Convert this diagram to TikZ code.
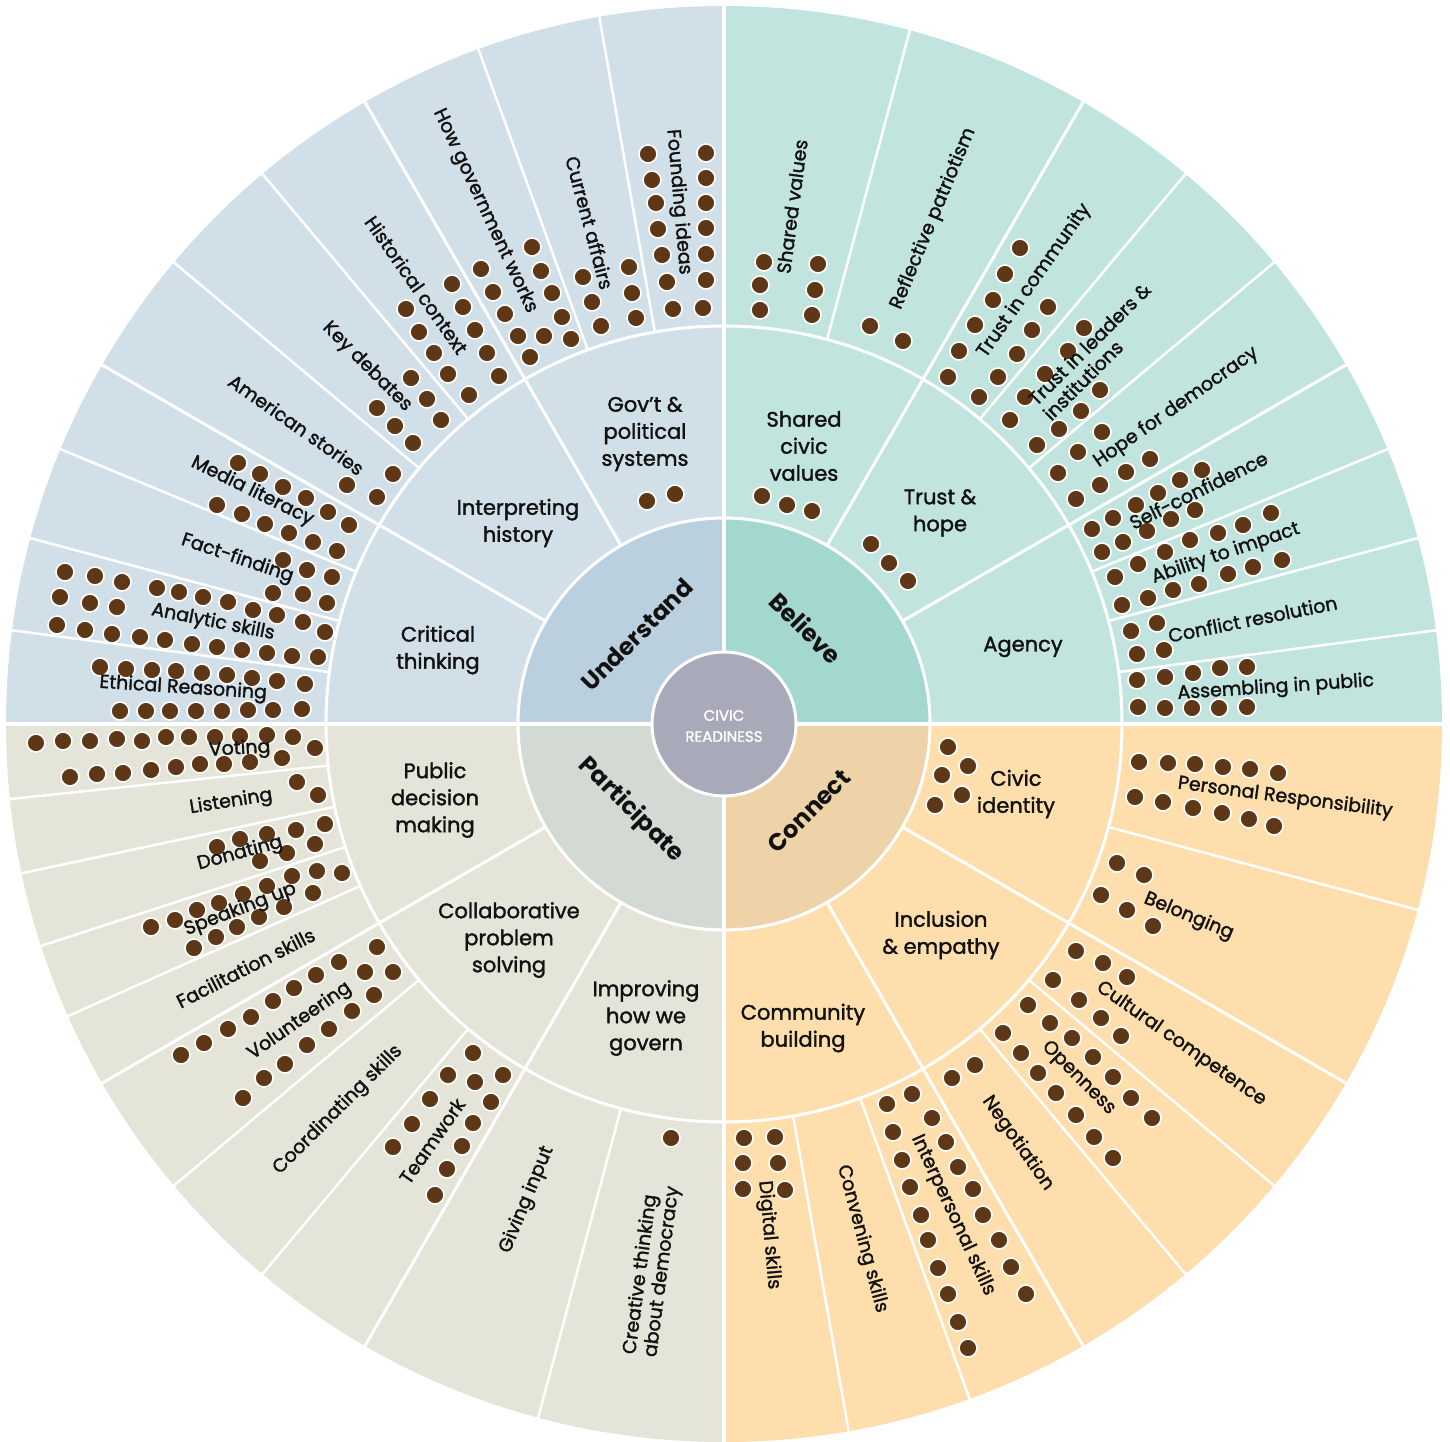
\documentclass[tikz,border=0pt]{standalone}
\usepackage{fontspec}
\setmainfont{Poppins}
\newfontfamily\chartfont{Poppins}[FakeBold=1.6]
\definecolor{understandpale}{RGB}{209,223,232}
\definecolor{understanddeep}{RGB}{187,208,223}
\definecolor{believepale}{RGB}{193,229,222}
\definecolor{believedeep}{RGB}{163,216,208}
\definecolor{connectpale}{RGB}{254,222,173}
\definecolor{connectdeep}{RGB}{238,211,168}
\definecolor{participatepale}{RGB}{228,229,216}
\definecolor{participatedeep}{RGB}{211,218,212}
\definecolor{civicgray}{RGB}{168,170,186}
\definecolor{dotbrown}{RGB}{94,55,22}
\definecolor{inkblack}{RGB}{17,17,17}
\usepackage{tikz}

\tikzset{
  leafline/.style={white,line width=2.5},
  branchline/.style={white,line width=3},
  rootline/.style={white,line width=4.5},
  civicdot/.style={fill=dotbrown,draw=white,line width=1.6},
  leaflabel/.style={font=\chartfont\fontsize{19}{21}\selectfont,text=inkblack,align=left,inner sep=0pt},
  branchlabel/.style={font=\chartfont\fontsize{21}{27}\selectfont,text=inkblack,align=center,inner sep=0pt},
  rootlabel/.style={font=\fontsize{24}{28}\selectfont\bfseries,text=inkblack,inner sep=0pt},
}

\begin{document}
\begin{tikzpicture}[x=1pt,y=1pt]
        \useasboundingbox (-724,-717) rectangle (726,724);
        % four quadrants, pale outer part and deeper inner ring
        \foreach \s/\pale/\deep in {90/understandpale/understanddeep,0/believepale/believedeep,
            270/connectpale/connectdeep,180/participatepale/participatedeep} {
          \fill[\pale] (0,0) -- (\s:718) arc[start angle=\s,delta angle=90,radius=718] -- cycle;
          \fill[\deep] (0,0) -- (\s:206) arc[start angle=\s,delta angle=90,radius=206] -- cycle;
        }
        \draw[branchline] (0,0) circle[radius=398];
        \draw[branchline] (0,0) circle[radius=206];
        % leaf borders, branch borders, quadrant borders
        \foreach \a in {100,110,130,140,157.5,165,172.5,75,50,40,22.5,15,7.5,
            -15,-40,-50,-70,-80,186,192,198,204,220,230,255}
          \draw[leafline] (\a:398) -- (\a:720);
        \foreach \a in {120,150,60,30,-30,-60,210,240}
          \draw[branchline] (\a:206) -- (\a:720);
        \foreach \a in {0,90,180,270}
          \draw[rootline] (\a:72) -- (\a:720);
        \filldraw[civicgray,draw=white,line width=3] (0,0) circle[radius=72];

        % dots, in pixel positions of the chart
        \begin{scope}[shift={(-724,724)},yscale=-1]
          % understand
          \foreach \p/\q in {647/501,675/494,
              706/153,706/178,706/203,706/228,706/254,706/280,703/308,
              648/154,652/180,656/203,658/229,662/255,667/282,673/309,
              583/277,592/302,601/326,629/267,632/293,636/318,
              532/247,541/271,552/293,562/317,571/339,544/336,530/357,481/269,493/292,505/314,518/336,
              452/284,463/307,475/330,487/353,499/376,406/309,419/332,434/353,448/374,469/395,
              411/378,427/399,441/420,377/408,395/426,413/443,
              393/474,377/497,347/485,
              238/463,260/474,283/487,306/498,328/512,349/525,217/505,242/514,265/524,289/533,313/542,337/551,
              283/560,307/570,332/577,273/593,303/594,327/603,
              65/572,95/576,122/582,60/597,90/603,117/607,
              157/588,179/592,203/597,228/602,253/610,277/615,303/622,325/632,
              57/625,85/630,112/634,140/637,165/640,192/644,217/647,242/650,267/653,292/656,318/657,
              100/667,126/669,152/670,176/671,202/673,227/675,252/678,277/681,305/684,
              120/711,146/711,170/711,196/711,222/711,248/710,273/710,302/709}
            \filldraw[civicdot] (\p,\q) circle[radius=9];
          % believe
          \foreach \p/\q in {762/496,787/505,812/511,871/544,889/563,908/581,
              764/262,760/285,760/310,818/264,815/290,812/315,
              870/326,903/341,
              1020/248,1005/274,993/300,975/325,959/351,948/377,979/397,1048/307,1032/330,1017/354,998/377,
              1084/328,1068/351,1045/374,1025/397,1010/420,1037/445,1059/429,1081/411,1100/390,
              1102/432,1078/452,1058/473,1076/499,1100/485,1126/472,1150/459,
              1202/470,1180/480,1158/493,1136/505,1113/518,1092/529,1102/552,1123/542,1147/531,1171/519,1195/510,
              1271/513,1243/525,1218/533,1190/540,1165/552,1138/564,1115/577,
              1122/605,1148/598,1173/590,1199/584,1228/574,1253/567,1282/560,
              1131/631,1157/623,1137/654,1164/650,
              1137/680,1165/677,1193/673,1220/668,1247/667,1138/707,1165/708,1192/708,1219/708,1247/707}
            \filldraw[civicdot] (\p,\q) circle[radius=9];
          % connect
          \foreach \p/\q in {948/747,968/766,942/775,962/795,935/805,
              1139/762,1168/763,1195/764,1223/767,1250/769,1278/773,
              1135/797,1163/802,1193/808,1222/813,1249/819,1274/826,
              1117/863,1144/875,1101/895,1127/910,1153/926,
              1076/951,1103/963,1127/977,1053/980,1079/1000,1101/1018,1121/1036,
              1028/1005,1050/1023,1072/1038,1093/1057,1113/1077,1131/1098,1152/1118,
              1003/1033,1021/1053,1038/1073,1056/1093,1076/1115,1094/1137,1113/1158,
              952/1078,975/1065,
              887/1104,912/1094,893/1132,902/1160,910/1187,921/1215,928/1240,938/1268,948/1294,958/1322,968/1348,
              932/1118,946/1142,958/1167,973/1189,983/1215,999/1240,1011/1267,1026/1294,
              744/1138,743/1163,743/1189,775/1137,778/1163,785/1190}
            \filldraw[civicdot] (\p,\q) circle[radius=9];
          % participate
          \foreach \p/\q in {36/743,63/741,90/741,117/739,142/741,166/737,189/737,215/737,240/736,267/735,293/737,315/748,
              70/777,97/774,123/773,151/770,176/767,200/764,224/764,250/762,282/758,
              297/782,318/795,
              325/824,296/830,267/834,240/839,217/847,315/844,287/853,260/861,
              342/873,317/871,292/876,267/886,243/894,219/903,197/910,175/920,151/927,
              313/893,284/907,259/917,237/927,216/937,194/948,
              377/947,339/962,316/975,294/988,273/1001,251/1017,228/1029,204/1043,181/1055,
              365/972,393/972,374/995,352/1011,329/1029,307/1045,285/1064,264/1078,243/1098,
              473/1053,448/1075,475/1082,503/1075,430/1099,491/1102,412/1124,473/1123,393/1147,462/1146,447/1169,435/1195,
              671/1138}
            \filldraw[civicdot] (\p,\q) circle[radius=9];
        \end{scope}

        % leaf labels, turned along their radius
        \foreach \a/\r/\t [count=\i] in {95/524/Founding ideas,105/519/Current affairs,115/566/How government works,
            125/536/Historical context,135/505/Key debates,145/522/American stories,
            153.75/526/Media literacy,161.25/514/Fact-finding,168.75/521/Analytic skills,176.25/542/Ethical Reasoning,
            82.5/522/Shared values,67.5/547/Reflective patriotism,55/541/Trust in community,
            45/527/{Trust in leaders \&\\institutions},35/552/Hope for democracy,26.25/529/Self-confidence,
            18.75/530/Ability to impact,11.25/539/Conflict resolution,3.75/553/Assembling in public,
            -7.5/566/Personal Responsibility,-22.5/503/Belonging,-35/558/Cultural competence,-45/501/Openness,
            -55/512/Negotiation,-65/542/Interpersonal skills,-75/533/Convening skills,-85/513/Digital skills,
            183/485/Voting,189/499/Listening,195/501/Donating,201/518/Speaking up,207/537/Facilitation skills,
            215/518/Volunteering,225/546/Coordinating skills,235/509/Teamwork,247.5/515/Giving input,
            262.5/551/{Creative thinking\\about democracy}} {
          \pgfmathsetmacro\rot{cos(\a)<0 ? \a-180 : \a}
          \node[leaflabel,rotate=\rot] (leaf-\i) at (\a:\r) {\t};
        }

        % branch labels
        \node[branchlabel] (govt) at (-79,290) {Gov’t \&\\political\\systems};
        \node[branchlabel] (history) at (-206,201) {Interpreting\\history};
        \node[branchlabel] (critical) at (-286,74) {Critical\\thinking};
        \node[branchlabel] (values) at (80,278) {Shared\\civic\\values};
        \node[branchlabel] (trust) at (216,211) {Trust \&\\hope};
        \node[branchlabel] (agency) at (299,77) {Agency};
        \node[branchlabel] (identity) at (292,-70) {Civic\\identity};
        \node[branchlabel] (inclusion) at (217,-211) {Inclusion\\\& empathy};
        \node[branchlabel] (community) at (79,-304) {Community\\building};
        \node[branchlabel] (public) at (-289,-76) {Public\\decision\\making};
        \node[branchlabel] (collab) at (-215,-216) {Collaborative\\problem\\solving};
        \node[branchlabel] (improving) at (-78,-294) {Improving\\how we\\govern};

        % quadrant labels and the hub
        \node[rootlabel,rotate=45] (understand) at (-87,89) {Understand};
        \node[rootlabel,rotate=-45] (believe) at (82,96) {Believe};
        \node[rootlabel,rotate=45] (connect) at (85,-87) {Connect};
        \node[rootlabel,rotate=-45] (participate) at (-93,-86) {Participate};
        \node[font=\chartfont\fontsize{15}{21}\selectfont,text=white,align=center,inner sep=0pt] (hub) at (0,-2) {CIVIC\\READINESS};
      \end{tikzpicture}
\end{document}
